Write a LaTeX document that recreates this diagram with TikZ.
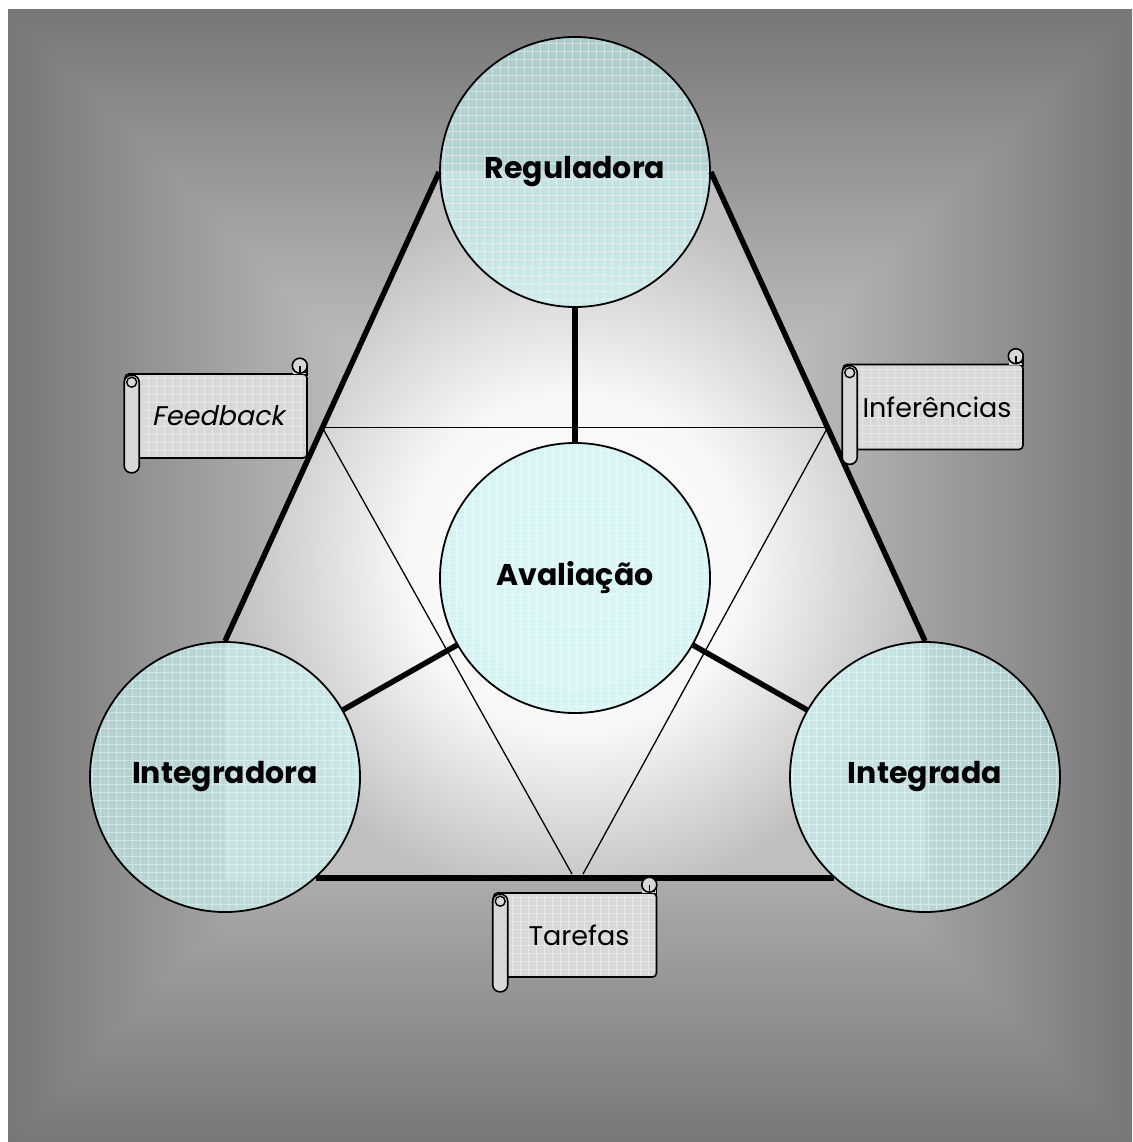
\documentclass[tikz,border=0pt]{standalone}
\usepackage{fontspec}
\setmainfont{Poppins}
\newfontfamily\slantfont[FakeSlant=0.2]{Poppins}
\usepackage{xcolor}
\usepackage{tikz}
\usetikzlibrary{calc}

\definecolor{bgedge}{RGB}{119,119,119}
\definecolor{bgmid}{RGB}{232,232,232}
\definecolor{circfill}{RGB}{200,242,242}
\definecolor{scrollfill}{RGB}{216,216,216}

\pgfdeclareradialshading{trishade}{\pgfpoint{0bp}{-3.5bp}}{color(0bp)=(white); color(12bp)=(white!97!black); color(25bp)=(white!75!black); color(50bp)=(white!75!black)}

\tikzset{
  gridtex/.style={path picture={\draw[white, opacity=0.4, line width=0.6pt, step=8pt] (path picture bounding box.south west) grid (path picture bounding box.north east);}},
  stage/.style={circle, draw=black, line width=1.8pt, fill=circfill, fill opacity=0.68, text opacity=1, minimum size=270pt, inner sep=0pt, gridtex, font=\fontsize{30}{36}\selectfont\bfseries},
  scrollbody/.style={draw=black, line width=1.6pt, fill=scrollfill, rounded corners=4pt, gridtex, inner sep=0pt, font=\fontsize{27}{32}\selectfont},
  scrollpart/.style={draw=black, line width=1.6pt, fill=scrollfill},
  thickedge/.style={line width=5.5pt},
  thinedge/.style={line width=1.3pt},
}

% scroll ends: left roll and top right curl
\newcommand{\scrollends}[1]{%
  \draw[scrollpart, rounded corners=7pt] ([yshift=-2pt]#1.north west) rectangle ([xshift=15pt,yshift=-14pt]#1.south west);
  \draw[line width=1.4pt] ([xshift=7.5pt,yshift=-9pt]#1.north west) circle (5pt);
  \fill[scrollfill] ([xshift=-15pt,yshift=-1pt]#1.north east) rectangle ([xshift=-1pt,yshift=7.5pt]#1.north east);
  \draw[scrollpart] ([xshift=-8pt,yshift=7.5pt]#1.north east) circle (7.5pt);
  \draw[line width=1.4pt] ([xshift=-8pt,yshift=7.5pt]#1.north east) -- ([xshift=-8pt,yshift=1pt]#1.north east) -- ([xshift=-2pt,yshift=1pt]#1.north east);
  \draw[line width=1.6pt] ([xshift=-0.8pt,yshift=7.5pt]#1.north east) -- ([xshift=-0.8pt,yshift=-3pt]#1.north east);
}

\begin{document}
\begin{tikzpicture}[x=1pt, y=-1pt]
  \fill[white] (0,0) rectangle (1132,1142);
  \useasboundingbox (0,0) rectangle (1132,1142);

  % Background
  \shade[inner color=bgmid!80!bgedge, outer color=bgedge] (8,10) rectangle (1132,1142);
  \shade[top color=bgedge, bottom color=bgmid] (8,10) -- (1132,10) -- (570,574) -- cycle;
  \shade[bottom color=bgedge, top color=bgmid] (8,1142) -- (1132,1142) -- (570,574) -- cycle;
  \shade[left color=bgedge, right color=bgmid] (8,10) -- (8,1142) -- (570,574) -- cycle;
  \shade[right color=bgedge, left color=bgmid] (1132,10) -- (1132,1142) -- (570,574) -- cycle;

  % Triangle
  \shade[shading=trishade] (440,172) -- (710,172) -- (925,642) -- (925,880) -- (225,880) -- (225,642) -- cycle;

  % Stages
  \node[stage] (reguladora) at (575,172) {Reguladora};
  \node[stage] (avaliacao) at (575,578) {Avaliação};
  \node[stage] (integradora) at (225,777) {Integradora};
  \node[stage] (integrada) at (925,777) {Integrada};

  % Inner triangle
  \coordinate (tri_l) at ($(reguladora.west)!0.545!(integradora.north)$);
  \coordinate (tri_r) at ($(reguladora.east)!0.545!(integrada.north)$);
  \coordinate (tri_bl) at (572,874);
  \coordinate (tri_br) at (583,874);
  \draw[thinedge] (tri_l) -- (tri_r);
  \draw[thinedge] (tri_l) -- (tri_bl);
  \draw[thinedge] (tri_r) -- (tri_br);

  % Links
  \draw[thickedge] (reguladora) -- (avaliacao);
  \draw[thickedge] (avaliacao) -- (integradora);
  \draw[thickedge] (avaliacao) -- (integrada);
  \draw[thickedge] (reguladora.west) -- (integradora.north);
  \draw[thickedge] (reguladora.east) -- (integrada.north);
  \draw[thickedge] (integradora.-48) -- (integrada.-132);

  % Scrolls
  \node[scrollbody, minimum width=182pt, minimum height=84pt] (feedback) at (216,416) {\hspace{4pt}\slantfont Feedback};
  \scrollends{feedback}
  \node[scrollbody, minimum width=180pt, minimum height=85pt] (inferencias) at (933,407) {\hspace{8pt}Inferências};
  \scrollends{inferencias}
  \node[scrollbody, minimum width=163pt, minimum height=84pt] (tarefas) at (575,935) {\hspace{8pt}Tarefas};
  \scrollends{tarefas}
\end{tikzpicture}
\end{document}
